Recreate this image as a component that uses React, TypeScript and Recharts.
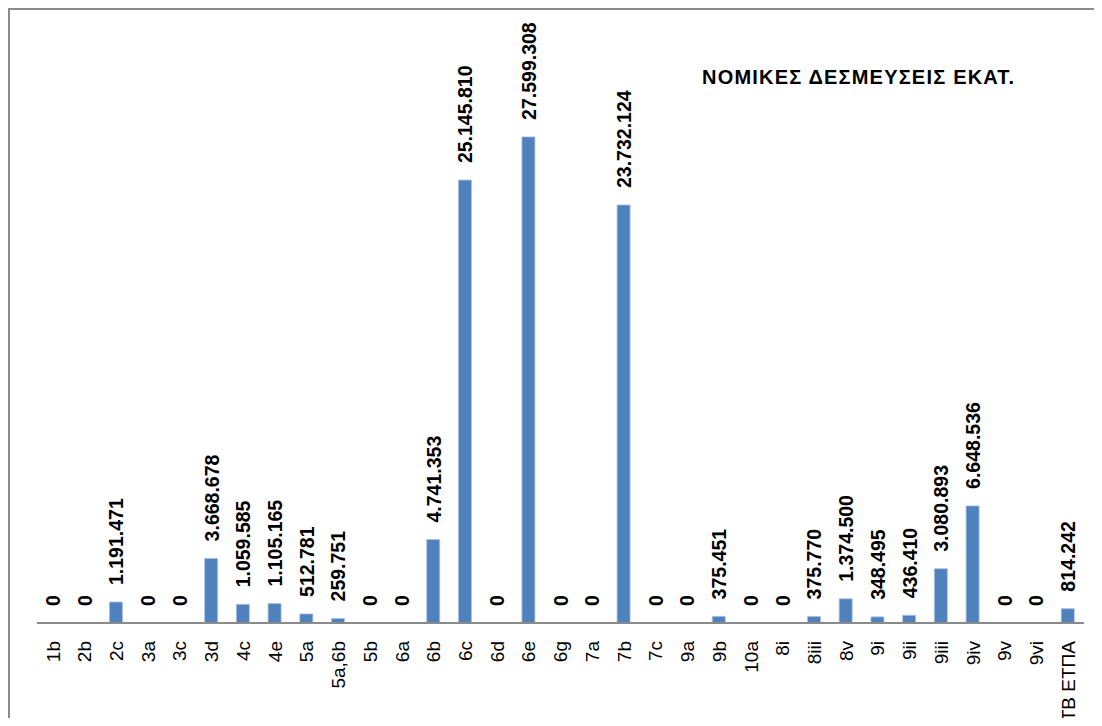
import React from "react";
import { ComposedChart, Bar, Line, XAxis, YAxis, LabelList } from "recharts";

const categories = ["1b","2b","2c","3a","3c","3d","4c","4e","5a","5a,6b","5b","6a","6b","6c","6d","6e","6g","7a","7b","7c","9a","9b","10a","8i","8iii","8v","9i","9ii","9iii","9iv","9v","9vi","ΤΒ ΕΤΠΑ"];
const values = [0,0,1191471,0,0,3668678,1059585,1105165,512781,259751,0,0,4741353,25145810,0,27599308,0,0,23732124,0,0,375451,0,0,375770,1374500,348495,436410,3080893,6648536,0,0,814242];
const title = "ΝΟΜΙΚΕΣ ΔΕΣΜΕΥΣΕΙΣ ΕΚΑΤ.";

const data = categories.map((c, i) => ({ name: c, value: values[i] }));

const FONT = "'Liberation Sans', Arial, sans-serif";

const fmt = (v: number) => String(Math.round(v)).replace(/\B(?=(\d{3})+(?!\d))/g, ".");

const Tick = (props: any) => {
  const { x, y, payload } = props;
  return (
    <text
      x={0}
      y={0}
      transform={`translate(${x},${y + 18}) rotate(-90)`}
      textAnchor="end"
      dy="0.35em"
      fontFamily={FONT}
      fontSize={19}
      fill="#000"
    >
      {payload.value}
    </text>
  );
};

const ValueLabel = (props: any) => {
  const { x, y, value } = props;
  if (x == null || y == null) return null;
  const ty = y - 17;
  return (
    <text
      x={0}
      y={0}
      transform={`translate(${x},${ty}) rotate(-90)`}
      textAnchor="start"
      dy="0.36em"
      fontFamily={FONT}
      fontSize={19.5}
      fontWeight="bold"
      fill="#000"
    >
      {fmt(value)}
    </text>
  );
};

export default function App() {
  return (
    <div
      style={{
        position: "relative",
        width: 1086,
        height: 710,
        boxSizing: "border-box",
        borderLeft: "2px solid #8a8a8a",
        borderTop: "2px solid #8a8a8a",
        background: "#fff",
      }}
    >
      <style>{`svg.recharts-surface{overflow:visible}`}</style>
      <ComposedChart
        width={1084}
        height={708}
        data={data}
        margin={{ top: 30, right: 10, bottom: 0, left: 27 }}
        barCategoryGap={0}
      >
        <XAxis
          dataKey="name"
          interval={0}
          height={95}
          tickLine={false}
          tickSize={0}
          tickMargin={0}
          axisLine={{ stroke: "#8a8a8a", strokeWidth: 2 }}
          tick={<Tick />}
        />
        <YAxis hide domain={[0, 33100000]} />
        <Bar
          dataKey="value"
          fill="#4f81bd"
          stroke="#a9c1e0"
          strokeWidth={0.8}
          barSize={13}
          isAnimationActive={false}
        />
        <Line
          dataKey="value"
          stroke="none"
          dot={false}
          activeDot={false}
          legendType="none"
          isAnimationActive={false}
        >
          <LabelList dataKey="value" content={<ValueLabel />} />
        </Line>
      </ComposedChart>
      <div
        style={{
          position: "absolute",
          left: 692,
          top: 57,
          fontFamily: FONT,
          fontWeight: "bold",
          fontSize: 20,
          letterSpacing: "1.2px",
          lineHeight: "20px",
          whiteSpace: "nowrap",
          color: "#000",
        }}
      >
        {title}
      </div>
    </div>
  );
}
